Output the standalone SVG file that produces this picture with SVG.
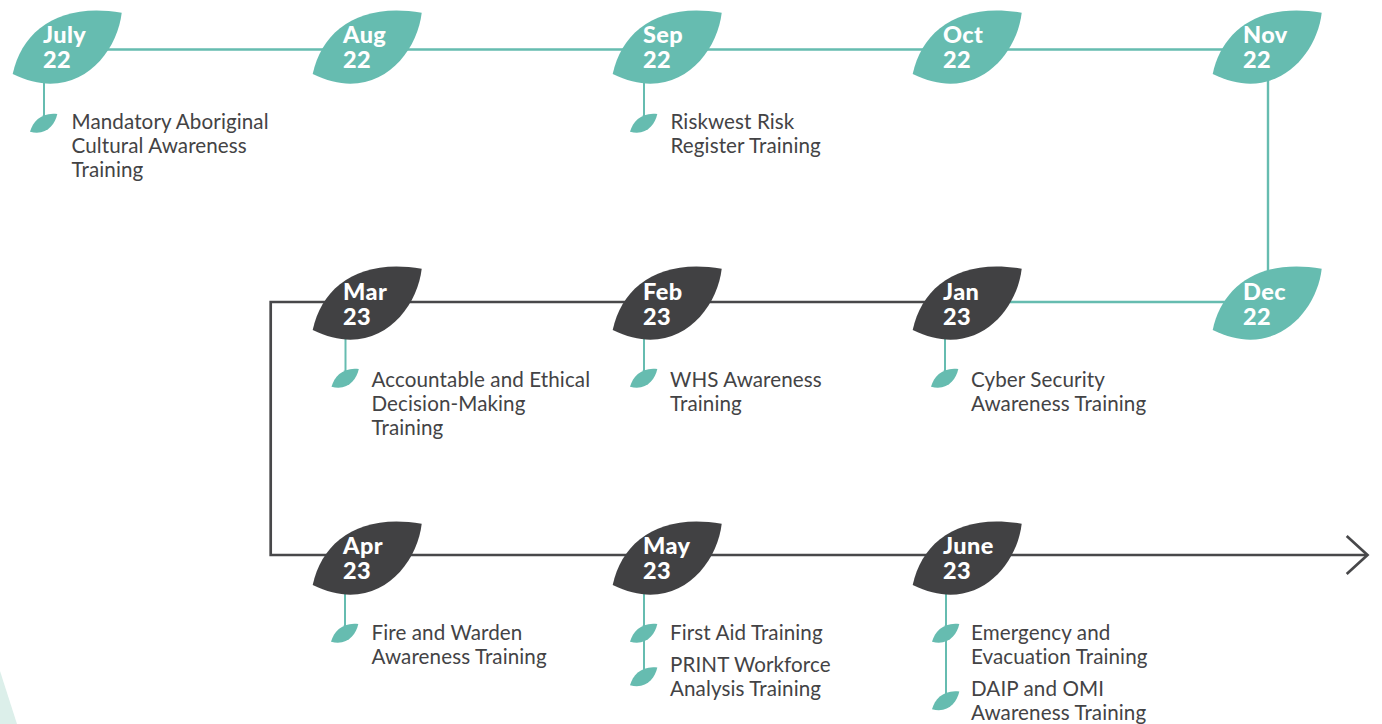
<svg xmlns="http://www.w3.org/2000/svg" xmlns:xlink="http://www.w3.org/1999/xlink" width="1382" height="724" viewBox="0 0 1382 724">
<style>
.teal{fill:#66bcb0}
.dark{fill:#414143}
.date{font-family:Lato,"Open Sans",sans-serif;font-weight:900;font-size:23.5px;letter-spacing:0.4px;fill:#ffffff}
.lbl{font-family:Lato,"Open Sans",sans-serif;font-size:20.6px;letter-spacing:0.1px;fill:#434345}
.tl{stroke:#66bcb0;stroke-width:2.4;fill:none}
.dl{stroke:#48484a;stroke-width:2.7;fill:none}
.stem{stroke:#66bcb0;stroke-width:2;fill:none}
</style>
<defs>
<path id="leaf" d="M12.7 74 C22 30 60 2 121.7 12.7 C117 55 75 105 12.7 74 Z"/>
<path id="sleaf" d="M30 131.7 C33 121 42 112 57.3 114 C55 125 46 136 30 131.7 Z"/>
</defs>
<rect width="1382" height="724" fill="#ffffff"/>
<polygon points="0,671 17,724 0,724" fill="#dcefea"/>
<g id="connectors">
<path class="tl" d="M60 49.5 H1268 V290"/>
<path class="tl" d="M960 302 H1268"/>
<path class="dl" d="M960 302 H270.7 V555 H1367"/>
<path class="dl" d="M1346.7 536 L1367.5 555 L1346.7 574"/>
</g>
<g id="jul22">
<path class="stem" d="M44 70 V122"/>
<use href="#leaf" class="teal"/>
<use href="#sleaf" class="teal"/>
<text class="date" x="43" y="43">July<tspan x="43" dy="24.5">22</tspan></text>
<text class="lbl" x="71.5" y="128.5">Mandatory Aboriginal</text>
<text class="lbl" x="71.5" y="152.5">Cultural Awareness</text>
<text class="lbl" x="71.5" y="176.5">Training</text>
</g>
<g id="aug22">
<use href="#leaf" x="300" class="teal"/>
<text class="date" x="343" y="43">Aug<tspan x="343" dy="24.5">22</tspan></text>
</g>
<g id="sep22">
<path class="stem" d="M644 70 V122"/>
<use href="#leaf" x="600" class="teal"/>
<use href="#sleaf" x="600" class="teal"/>
<text class="date" x="643" y="43">Sep<tspan x="643" dy="24.5">22</tspan></text>
<text class="lbl" x="670.5" y="128.5">Riskwest Risk</text>
<text class="lbl" x="670.5" y="152.5">Register Training</text>
</g>
<g id="oct22">
<use href="#leaf" x="900" class="teal"/>
<text class="date" x="943" y="43">Oct<tspan x="943" dy="24.5">22</tspan></text>
</g>
<g id="nov22">
<use href="#leaf" x="1200" class="teal"/>
<text class="date" x="1243" y="43">Nov<tspan x="1243" dy="24.5">22</tspan></text>
</g>
<g id="dec22">
<use href="#leaf" x="1200" y="256" class="teal"/>
<text class="date" x="1243" y="300">Dec<tspan x="1243" dy="24.5">22</tspan></text>
</g>
<g id="jan23">
<path class="stem" d="M945 326 V378"/>
<use href="#leaf" x="900" y="256" class="dark"/>
<use href="#sleaf" x="901" y="255" class="teal"/>
<text class="date" x="943" y="300">Jan<tspan x="943" dy="24.5">23</tspan></text>
<text class="lbl" x="971" y="386.5">Cyber Security</text>
<text class="lbl" x="971" y="410.5">Awareness Training</text>
</g>
<g id="feb23">
<path class="stem" d="M644 326 V378"/>
<use href="#leaf" x="600" y="256" class="dark"/>
<use href="#sleaf" x="600" y="255" class="teal"/>
<text class="date" x="643" y="300">Feb<tspan x="643" dy="24.5">23</tspan></text>
<text class="lbl" x="670" y="386.5">WHS Awareness</text>
<text class="lbl" x="670" y="410.5">Training</text>
</g>
<g id="mar23">
<path class="stem" d="M345.5 326 V378"/>
<use href="#leaf" x="300" y="256" class="dark"/>
<use href="#sleaf" x="301.5" y="255" class="teal"/>
<text class="date" x="343" y="300">Mar<tspan x="343" dy="24.5">23</tspan></text>
<text class="lbl" x="371.5" y="386.5">Accountable and Ethical</text>
<text class="lbl" x="371.5" y="410.5">Decision-Making</text>
<text class="lbl" x="371.5" y="434.5">Training</text>
</g>
<g id="apr23">
<path class="stem" d="M345 580 V632"/>
<use href="#leaf" x="300" y="511" class="dark"/>
<use href="#sleaf" x="301" y="510" class="teal"/>
<text class="date" x="343" y="554">Apr<tspan x="343" dy="24.5">23</tspan></text>
<text class="lbl" x="371.5" y="640">Fire and Warden</text>
<text class="lbl" x="371.5" y="664">Awareness Training</text>
</g>
<g id="may23">
<path class="stem" d="M644 580 V676"/>
<use href="#leaf" x="600" y="511" class="dark"/>
<use href="#sleaf" x="600" y="510" class="teal"/>
<use href="#sleaf" x="600" y="553.5" class="teal"/>
<text class="date" x="643" y="554">May<tspan x="643" dy="24.5">23</tspan></text>
<text class="lbl" x="670" y="640">First Aid Training</text>
<text class="lbl" x="670" y="672">PRINT Workforce</text>
<text class="lbl" x="670" y="696">Analysis Training</text>
</g>
<g id="jun23">
<path class="stem" d="M946 580 V700"/>
<use href="#leaf" x="900" y="511" class="dark"/>
<use href="#sleaf" x="902" y="510" class="teal"/>
<use href="#sleaf" x="902" y="577.5" class="teal"/>
<text class="date" x="943" y="554">June<tspan x="943" dy="24.5">23</tspan></text>
<text class="lbl" x="971" y="640">Emergency and</text>
<text class="lbl" x="971" y="664">Evacuation Training</text>
<text class="lbl" x="971" y="695.5">DAIP and OMI</text>
<text class="lbl" x="971" y="719.5">Awareness Training</text>
</g>
</svg>
